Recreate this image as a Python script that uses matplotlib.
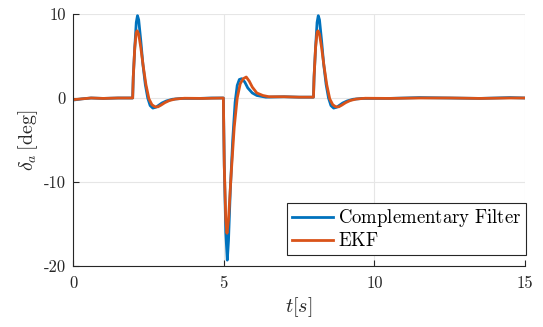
import matplotlib
matplotlib.use("Agg")
import matplotlib.pyplot as plt

plt.rcParams['mathtext.fontset'] = 'cm'
plt.rcParams['font.family'] = 'cmr10'
plt.rcParams['axes.unicode_minus'] = False
plt.rcParams['axes.formatter.use_mathtext'] = True

# Complementary filter (blue) readings
t_cf = [0.0, 0.3, 0.6, 1.0, 1.5, 1.98, 2.0, 2.05, 2.1, 2.14, 2.18, 2.25, 2.32, 2.4, 2.48, 2.56,
        2.65, 2.75, 2.85, 2.95, 3.1, 3.3, 3.6, 4.2, 4.6, 4.99,
        5.02, 5.07, 5.12, 5.16, 5.22, 5.3, 5.38, 5.45, 5.52, 5.6, 5.7, 5.8, 5.95, 6.1, 6.4,
        7.0, 7.5, 7.98, 8.0, 8.05, 8.1, 8.14, 8.18, 8.25, 8.32, 8.4, 8.48, 8.56, 8.65, 8.75,
        8.85, 8.95, 9.1, 9.3, 9.6, 10.5, 11.5, 12.5, 13.5, 14.5, 15.0]
v_cf = [-0.25, -0.1, 0.0, -0.05, 0.0, 0.0, 2.5, 6.0, 9.0, 9.8, 9.3, 6.8, 4.0, 1.6, 0.0, -0.9,
        -1.2, -1.1, -0.85, -0.6, -0.35, -0.15, -0.05, -0.05, 0.0, 0.0,
        -8.0, -16.0, -19.3, -17.0, -11.0, -5.0, -0.5, 1.5, 2.2, 2.3, 1.9, 1.2, 0.6, 0.3, 0.1,
        0.15, 0.1, 0.1, 2.5, 6.0, 9.0, 9.8, 9.3, 6.8, 4.0, 1.6, 0.0, -0.9, -1.2, -1.1,
        -0.85, -0.6, -0.35, -0.15, -0.05, -0.05, 0.05, 0.0, -0.05, 0.05, 0.0]

# EKF (orange) readings
t_ekf = [0.0, 0.3, 0.6, 1.0, 1.5, 1.98, 2.0, 2.05, 2.1, 2.13, 2.18, 2.25, 2.33, 2.42, 2.52, 2.62,
         2.72, 2.82, 2.92, 3.05, 3.2, 3.4, 3.7, 4.3, 4.99,
         5.02, 5.07, 5.11, 5.16, 5.25, 5.35, 5.45, 5.55, 5.65, 5.75, 5.85, 5.95, 6.1, 6.3, 6.5,
         7.0, 7.5, 7.98, 8.0, 8.05, 8.1, 8.13, 8.18, 8.25, 8.33, 8.42, 8.52, 8.62, 8.72, 8.82,
         8.92, 9.05, 9.2, 9.4, 9.7, 10.5, 11.5, 12.5, 13.5, 14.5, 15.0]
v_ekf = [-0.2, -0.1, 0.0, -0.05, 0.0, 0.0, 2.5, 6.0, 7.8, 8.0, 7.6, 6.0, 3.8, 1.6, -0.1, -0.8,
         -1.05, -1.05, -0.85, -0.55, -0.3, -0.12, -0.03, -0.05, 0.0,
         -8.0, -14.5, -16.1, -14.5, -9.0, -3.5, 0.0, 1.7, 2.3, 2.5, 2.0, 1.3, 0.6, 0.3, 0.15,
         0.15, 0.1, 0.1, 2.5, 6.0, 7.8, 8.0, 7.6, 6.0, 3.8, 1.6, -0.1, -0.8, -1.05, -1.05,
         -0.85, -0.55, -0.3, -0.12, -0.03, -0.05, 0.0, 0.0, -0.05, 0.0, 0.0]

x_ticks = [0, 5, 10, 15]
y_ticks = [-20, -10, 0, 10]
x_ticklabels = ['0', '5', '10', '15']
y_ticklabels = ['-20', '-10', '0', '10']

fig = plt.figure(figsize=(5.43, 3.27), dpi=100)
ax = fig.add_axes([73/543, 61/327, 452/543, 252/327])

ax.plot(t_cf, v_cf, color='#0072BD', lw=2.0, label=r'$\mathrm{Complementary\ Filter}$')
ax.plot(t_ekf, v_ekf, color='#D95319', lw=2.0, label=r'$\mathrm{EKF}$')

ax.set_xlim(0, 15)
ax.set_ylim(-20, 10)
ax.set_xticks(x_ticks)
ax.set_xticklabels(x_ticklabels, fontsize=12)
ax.set_yticks(y_ticks)
ax.set_yticklabels(y_ticklabels, fontsize=12)
ax.grid(True, color='#e6e6e6', lw=0.8)
ax.set_axisbelow(True)
for s in ['top', 'right']:
    ax.spines[s].set_visible(False)
for s in ['left', 'bottom']:
    ax.spines[s].set_color('#262626')
    ax.spines[s].set_linewidth(0.8)
ax.tick_params(direction='in', length=4, width=0.8, color='#262626', labelcolor='#262626')
ax.tick_params(axis='x', pad=7)
ax.tick_params(axis='y', pad=5)

ax.set_xlabel(r'$t[s]$', fontsize=14.5, color='#262626', labelpad=3)
ax.set_ylabel(r'$\delta_a\,[\mathrm{deg}]$', fontsize=14.5, color='#262626', labelpad=3)

leg = ax.legend(loc='lower right', bbox_to_anchor=(1.002, 0.044), borderaxespad=0,
                fontsize=13.5, frameon=True, fancybox=False,
                edgecolor='#262626', framealpha=1, borderpad=0.25, handlelength=2.2,
                handletextpad=0.25, labelspacing=0.15)
leg.get_frame().set_linewidth(0.8)

fig.savefig('out.png', dpi=100)
